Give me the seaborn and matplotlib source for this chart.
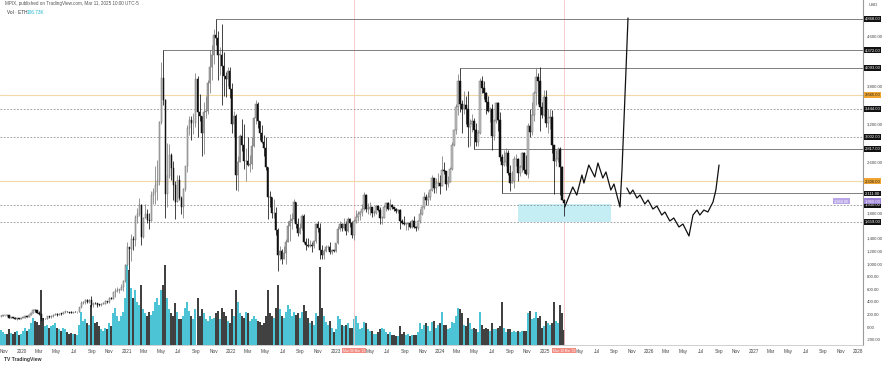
import numpy as np
import pandas as pd
import matplotlib
matplotlib.use("Agg")
import matplotlib.pyplot as plt
import matplotlib.dates as mdates
import matplotlib.transforms as mtrans
import seaborn as sns

# ---------------- data (weekly ETHUSD) ----------------
week_start = "2019-10-21"
first_open = 173

close_2019 = [182, 183, 185, 184, 150, 151, 148, 132, 133, 128, 144]
high_2019 = [197, 192, 194, 190, 185, 157, 153, 151, 136, 135, 146]
low_2019 = [160, 176, 181, 178, 140, 138, 143, 130, 117, 125, 126]

close_2020 = [146, 167, 162, 189, 223, 265, 262, 219, 200, 124, 123, 131, 169,
              158, 171, 197, 211, 190, 208, 206, 240, 245, 232, 227, 225, 242,
              232, 238, 310, 386, 390, 434, 388, 428, 354, 380, 372, 355, 353,
              366, 369, 410, 395, 465, 448, 550, 575, 590, 590, 640, 730, 975]
high_2020 = [148, 175, 170, 190, 225, 287, 288, 275, 253, 201, 145, 144, 175,
             175, 190, 200, 227, 215, 215, 215, 245, 252, 248, 238, 247, 245,
             250, 241, 320, 415, 405, 445, 440, 440, 488, 385, 395, 360, 370,
             375, 392, 420, 413, 470, 475, 555, 620, 630, 595, 680, 740, 1000]
low_2020 = [137, 143, 154, 160, 185, 220, 240, 215, 196, 90, 110, 125, 126,
            150, 145, 165, 193, 178, 185, 190, 198, 225, 230, 224, 220, 222,
            230, 229, 234, 305, 370, 370, 380, 372, 310, 320, 358, 315, 334,
            336, 365, 370, 375, 372, 440, 440, 480, 560, 535, 588, 570, 716]

close_2021 = [1260, 1230, 1390, 1370, 1740, 1780, 1935, 1420, 1720, 1790, 1690, 1680, 2080,
              2140, 2240, 2300, 3240, 3930, 3580, 2100, 2390, 2710, 2510, 2240, 1980, 2330,
              2040, 1900, 2180, 2540, 3150, 3270, 3220, 3230, 3920, 3400, 3330, 3060, 3400,
              3420, 3850, 4100, 4290, 4610, 4570, 4300, 4300, 4120, 3960, 3920, 4050, 3760]
high_2021 = [1350, 1270, 1475, 1440, 1770, 1875, 2040, 1950, 1740, 1940, 1870, 1800, 2150,
             2200, 2550, 2640, 3250, 4190, 4372, 3600, 2900, 2890, 2750, 2620, 2300, 2400,
             2400, 2070, 2200, 2550, 3190, 3330, 3330, 3380, 4020, 3970, 3680, 3180, 3550,
             3650, 3900, 4380, 4460, 4700, 4868, 4680, 4430, 4780, 4350, 4030, 4100, 4100]
low_2021 = [975, 900, 1040, 1220, 1280, 1650, 1760, 1300, 1410, 1720, 1640, 1550, 1670,
            1940, 1950, 2000, 2250, 3200, 3500, 1730, 1900, 2350, 2330, 2000, 1700, 1970,
            2000, 1780, 1720, 2150, 2450, 3040, 2950, 3050, 3160, 3000, 3250, 2700, 2740,
            3300, 3370, 3700, 3900, 4150, 4450, 3900, 3980, 3500, 3650, 3640, 3800, 3620]

close_2022 = [3200, 3330, 2400, 2600, 3020, 2870, 2620, 2620, 2560, 2580, 2860, 3300, 3520,
              3260, 3060, 2920, 2830, 2520, 2060, 2050, 1800, 1800, 1530, 1130, 1200, 1070,
              1170, 1350, 1600, 1680, 1700, 1980, 1620, 1490, 1570, 1760, 1340, 1290, 1280,
              1290, 1280, 1360, 1620, 1570, 1220, 1140, 1200, 1260, 1270, 1190, 1220, 1200]
high_2022 = [3850, 3420, 3360, 2700, 3050, 3280, 3200, 2830, 3000, 2720, 3000, 3320, 3580,
             3550, 3200, 3190, 3040, 3000, 2530, 2150, 2050, 2015, 1900, 1560, 1280, 1240,
             1280, 1390, 1670, 1780, 1800, 2030, 1960, 1720, 1640, 1790, 1780, 1400, 1400,
             1380, 1340, 1370, 1640, 1680, 1650, 1290, 1230, 1300, 1300, 1350, 1230, 1230]
low_2022 = [3060, 3000, 2160, 2150, 2600, 2780, 2500, 2300, 2540, 2450, 2500, 2850, 3200,
            3150, 2950, 2900, 2700, 2480, 1700, 1900, 1720, 1730, 1450, 880, 1060, 1000,
            1080, 1000, 1350, 1360, 1550, 1680, 1560, 1430, 1470, 1530, 1320, 1220, 1270,
            1270, 1190, 1250, 1330, 1500, 1080, 1080, 1070, 1190, 1220, 1160, 1160, 1190]

close_2023 = [1320, 1550, 1630, 1570, 1630, 1510, 1700, 1640, 1450, 1680, 1740, 1780, 1820,
              1860, 2080, 1870, 1870, 1900, 1800, 1800, 1910, 1850, 1720, 1730, 1900, 1960,
              1870, 1930, 1890, 1870, 1830, 1850, 1670, 1640, 1630, 1630, 1640, 1580, 1670,
              1580, 1560, 1670, 1780, 1890, 2050, 2010, 2060, 2170, 2350, 2200, 2270, 2280]
high_2023 = [1330, 1590, 1680, 1650, 1720, 1680, 1740, 1720, 1670, 1700, 1850, 1840, 1830,
             1940, 2140, 2100, 1960, 1980, 1880, 1850, 1930, 1930, 1890, 1760, 1930, 1960,
             1970, 2030, 1940, 1900, 1880, 1870, 1860, 1700, 1750, 1650, 1650, 1670, 1700,
             1750, 1590, 1680, 1860, 1910, 2130, 2100, 2130, 2180, 2400, 2330, 2350, 2440]
low_2023 = [1190, 1310, 1510, 1520, 1550, 1460, 1500, 1580, 1400, 1370, 1640, 1680, 1690,
            1760, 1850, 1810, 1790, 1770, 1740, 1760, 1780, 1830, 1630, 1630, 1720, 1830,
            1850, 1850, 1860, 1840, 1800, 1800, 1550, 1620, 1610, 1540, 1530, 1560, 1570,
            1570, 1520, 1530, 1640, 1770, 1870, 1930, 1930, 2000, 2150, 2120, 2120, 2220]

close_2024 = [2230, 2480, 2460, 2260, 2290, 2500, 2880, 3110, 3480, 3890, 3520, 3450, 3500,
              3450, 3160, 3200, 3260, 3120, 2920, 3070, 3890, 3780, 3700, 3560, 3420, 3440,
              3020, 3250, 3540, 3270, 2690, 2560, 2610, 2750, 2430, 2280, 2300, 2650, 2650,
              2440, 2520, 2750, 2480, 2420, 3180, 3080, 3350, 3700, 3950, 3890, 3480, 3350, 3630]
high_2024 = [2400, 2700, 2600, 2470, 2390, 2530, 2930, 3120, 3520, 3990, 4093, 3580, 3730,
             3650, 3730, 3280, 3360, 3300, 3220, 3110, 3940, 3960, 3880, 3710, 3650, 3470,
             3520, 3280, 3560, 3560, 3400, 2740, 2800, 2830, 2790, 2560, 2460, 2700, 2730,
             2670, 2560, 2770, 2770, 2720, 3220, 3450, 3550, 3730, 4090, 4010, 4110, 3550, 3740]
low_2024 = [2100, 2270, 2420, 2170, 2210, 2290, 2480, 2860, 3050, 3350, 3400, 3060, 3360,
            3210, 2850, 2860, 3080, 2817, 2860, 2860, 3050, 3700, 3600, 3360, 3400, 3240,
            2800, 2950, 3220, 3100, 2630, 2111, 2550, 2550, 2400, 2150, 2280, 2200, 2540,
            2310, 2380, 2450, 2440, 2400, 2350, 3000, 3030, 3250, 3500, 3520, 3100, 3300, 3330]

close_2025 = [3220, 3300, 3320, 2870, 2630, 2660, 2820, 2520, 2010, 1960]
high_2025 = [3740, 3450, 3450, 3430, 2870, 2800, 2850, 2850, 2550, 2020]
low_2025 = [3160, 3060, 3130, 2750, 2100, 2550, 2600, 2080, 2000, 1760]

# weekly volume, thousands of ETH
vol_2019 = [105, 90, 80, 75, 110, 85, 80, 90, 100, 70, 80]
vol_2020 = [95, 120, 100, 110, 150, 190, 170, 160, 140, 380, 190, 130, 140,
            120, 130, 140, 150, 120, 110, 100, 120, 110, 90, 80, 85, 80,
            75, 70, 140, 230, 170, 180, 150, 140, 280, 200, 150, 160, 130,
            110, 100, 120, 110, 150, 130, 220, 260, 200, 170, 200, 230, 330]
vol_2021 = [560, 520, 400, 330, 380, 300, 280, 420, 250, 220, 200, 230, 210,
            240, 300, 330, 280, 380, 420, 560, 330, 250, 220, 200, 290, 230,
            180, 180, 200, 260, 300, 240, 200, 180, 250, 330, 200, 250, 220,
            180, 170, 200, 180, 190, 220, 240, 180, 260, 230, 200, 170, 150]
vol_2022 = [250, 200, 380, 300, 220, 200, 190, 230, 220, 170, 180, 200, 180,
            170, 160, 140, 150, 200, 380, 220, 200, 190, 260, 420, 250, 200,
            190, 230, 280, 250, 200, 230, 210, 220, 190, 230, 280, 240, 190,
            150, 170, 140, 220, 200, 540, 260, 200, 160, 140, 170, 120, 90]
vol_2023 = [110, 200, 180, 140, 130, 140, 150, 120, 120, 180, 200, 150, 110,
            120, 160, 150, 110, 100, 100, 80, 80, 90, 110, 120, 110, 90,
            80, 90, 70, 70, 60, 60, 130, 80, 90, 70, 80, 60, 70,
            70, 70, 90, 150, 110, 140, 150, 130, 100, 160, 170, 120, 140]
vol_2024 = [150, 230, 140, 140, 110, 120, 160, 150, 200, 260, 250, 220, 140,
            130, 190, 150, 110, 120, 110, 90, 230, 140, 110, 120, 110, 100,
            150, 110, 110, 120, 130, 300, 120, 90, 110, 110, 90, 100, 90,
            100, 90, 100, 100, 100, 220, 240, 180, 190, 230, 190, 200, 120, 130]
vol_2025 = [170, 150, 140, 150, 300, 170, 150, 280, 220, 106.73]

# drawn levels
ray_start = ["2021-05-10", "2021-11-08", "2024-03-11", "2024-04-29", "2024-08-05"]
ray_price = [4372, 4868, 4093, 2817, 2111]
dotted_levels = [3444, 3002, 1930, 1659]
orange_levels = [3665, 2306]
zone_dates = ["2024-09-29", "2025-08-22"]
zone_prices = [1659, 1943]
marker_dates = ["2023-03-06", "2025-03-10"]
marker_labels = ["Mon 06 Mar '23", "Mon 10 Mar '25"]
last_price = 1960

# hand-drawn projections
proj1_dates = ["2025-03-12", "2025-04-09", "2025-04-23", "2025-05-11", "2025-05-18",
               "2025-06-04", "2025-06-25", "2025-07-06", "2025-07-23", "2025-08-03",
               "2025-08-20", "2025-08-31", "2025-09-21", "2025-09-28", "2025-10-05",
               "2025-10-12", "2025-10-19"]
proj1_price = [1896, 2212, 2085, 2401, 2275, 2559, 2370, 2591, 2354, 2449,
               2164, 2259, 1896, 2480, 3270, 4060, 4882]
proj2_dates = ["2025-10-15", "2025-10-26", "2025-11-05", "2025-11-19", "2025-11-30",
               "2025-12-17", "2025-12-28", "2026-01-14", "2026-01-28", "2026-02-14",
               "2026-02-25", "2026-03-14", "2026-03-28", "2026-04-15", "2026-04-29",
               "2026-05-20", "2026-06-03", "2026-06-17", "2026-06-27", "2026-07-11",
               "2026-07-25", "2026-08-12", "2026-08-22", "2026-09-02"]
proj2_price = [2196, 2101, 2164, 2038, 2085, 1943, 2006, 1864, 1912, 1769,
               1817, 1675, 1722, 1580, 1627, 1438, 1769, 1848, 1769, 1848,
               1817, 1975, 2164, 2559]

# ---------------- assemble ----------------
close = close_2019 + close_2020 + close_2021 + close_2022 + close_2023 + close_2024 + close_2025
high = high_2019 + high_2020 + high_2021 + high_2022 + high_2023 + high_2024 + high_2025
low = low_2019 + low_2020 + low_2021 + low_2022 + low_2023 + low_2024 + low_2025
vol = vol_2019 + vol_2020 + vol_2021 + vol_2022 + vol_2023 + vol_2024 + vol_2025
dates = pd.date_range(week_start, periods=len(close), freq="7D")
opens = [first_open] + close[:-1]
df = pd.DataFrame({"date": dates, "open": opens, "close": close, "high": high,
                   "low": low, "vol": vol})
df["high"] = df[["high", "open", "close"]].max(axis=1)
df["low"] = df[["low", "open", "close"]].min(axis=1)
df["up"] = df["close"] >= df["open"]

sns.set_style("white")
plt.rcParams["font.family"] = ["Liberation Sans", "DejaVu Sans"]

fig = plt.figure(figsize=(8.82, 3.65), dpi=100)
ax = fig.add_axes([0.0, 20 / 365, 863 / 882, 345 / 365])
axv = ax.twinx()
ax.set_zorder(axv.get_zorder() + 1)
ax.patch.set_visible(False)

x0 = pd.Timestamp("2019-10-17")
x1 = pd.Timestamp("2028-01-18")
ax.set_xlim(x0, x1)
ax.set_ylim(-284, 5166)
axv.set_ylim(0, 2400)

UPC = "#1fb6cb"
DNC = "#111111"

# volume
for s in axv.spines.values():
    s.set_visible(False)
axv.vlines(df["date"], 0, df["vol"], colors=np.where(df["up"], UPC, DNC).tolist(),
           lw=1.15, zorder=1)
axv.set_yticks([])

# levels
tr_lbl = mtrans.blended_transform_factory(ax.transAxes, ax.transData)
for d in marker_dates:
    ax.axvline(pd.Timestamp(d), color="#f6c3c3", lw=0.6, zorder=0)
for p in dotted_levels:
    ax.axhline(p, color="#8f8f8f", lw=0.6, ls=(0, (2, 2)), zorder=1)
for p in orange_levels:
    ax.axhline(p, color="#f3d9a4", lw=0.8, zorder=1)
for d, p in zip(ray_start, ray_price):
    ax.plot([pd.Timestamp(d), x1], [p, p], color="#7f7f7f", lw=0.7, zorder=1)
ax.fill_between([pd.Timestamp(zone_dates[0]), pd.Timestamp(zone_dates[1])],
                zone_prices[0], zone_prices[1], color="#c4eef4", lw=0, zorder=0)

# candles
ax.vlines(df["date"], df["low"], df["high"],
          colors=np.where(df["up"], "#7a7a7a", "#111111").tolist(), lw=0.55, zorder=3)
body_lo = df[["open", "close"]].min(axis=1)
body_h = (df["close"] - df["open"]).abs().clip(lower=8)
ax.bar(df["date"], body_h, bottom=body_lo, width=5.0,
       color=np.where(df["up"], "#c2c2c2", "#111111").tolist(),
       edgecolor=np.where(df["up"], "#6e6e6e", "#111111").tolist(), linewidth=0.35, zorder=4)

# projections
p1 = pd.DataFrame({"date": pd.to_datetime(proj1_dates), "price": proj1_price})
p2 = pd.DataFrame({"date": pd.to_datetime(proj2_dates), "price": proj2_price})
sns.lineplot(data=p1, x="date", y="price", ax=ax, color="#111111", lw=0.9, sort=False, zorder=5)
sns.lineplot(data=p2, x="date", y="price", ax=ax, color="#111111", lw=0.9, sort=False, zorder=5)
ax.set_xlabel("")
ax.set_ylabel("")

# axes styling
for s in ["top", "left"]:
    ax.spines[s].set_visible(False)
ax.spines["right"].set_color("#9a9a9a")
ax.spines["right"].set_linewidth(0.8)
ax.spines["bottom"].set_color("#c8c8c8")
ax.spines["bottom"].set_linewidth(0.6)

tag_prices = ray_price + dotted_levels + orange_levels + [last_price + 30]
ax.yaxis.tick_right()
yt = [v for v in range(-200, 5000, 200) if min(abs(v - t) for t in tag_prices) > 110]
ax.set_yticks(yt)
ax.set_yticklabels([f"{v:,.2f}" for v in yt])
ax.tick_params(axis="y", length=0, labelsize=3.1, labelcolor="#444444", pad=2.5)

ax.xaxis.set_major_locator(mdates.MonthLocator(bymonth=[1, 3, 5, 7, 9, 11]))
hidden_months = [(2023, 3), (2025, 3)]
def fmt(x, pos):
    d = mdates.num2date(x)
    if (d.year, d.month) in hidden_months:
        return ""
    return str(d.year) if d.month == 1 else d.strftime("%b")
ax.xaxis.set_major_formatter(plt.FuncFormatter(fmt))
ax.tick_params(axis="x", length=0, labelsize=3.4, labelcolor="#444444", pad=3)
ax.grid(False)

# right-axis level labels
def tag(p, txt, fc, tc="white"):
    ax.text(1.002, p, txt, transform=tr_lbl, fontsize=3.0, color=tc, va="center",
            ha="left", clip_on=False, zorder=10,
            bbox=dict(boxstyle="square,pad=0.2", fc=fc, ec="none"))
for p in ray_price:
    tag(p, f"{p:,.2f}", "#111111")
for p in dotted_levels:
    tag(p, f"{p:,.2f}", "#111111")
for p in orange_levels:
    tag(p, f"{p:,.2f}", "#f0a531", "#222222")
tag(last_price + 30, f"{last_price:,.2f}", "#9d84d8")
ax.text(0.984, last_price + 30, f"{last_price:,.2f}", transform=tr_lbl, fontsize=2.8,
        color="white", ha="right", va="center", zorder=10,
        bbox=dict(boxstyle="square,pad=0.2", fc="#b9a6e6", ec="none"))
ax.text(1.006, 1.0 - 5 / 345, "USD", transform=ax.transAxes, fontsize=3.2,
        color="#444444", ha="left", va="center", clip_on=False)

# date markers on x axis
trx = mtrans.blended_transform_factory(ax.transData, ax.transAxes)
for d, t in zip(marker_dates, marker_labels):
    ax.text(pd.Timestamp(d), -0.016, t, transform=trx,
            fontsize=2.3, color="white", ha="center", va="center", clip_on=False, zorder=10,
            bbox=dict(boxstyle="square,pad=0.25", fc="#f28b82", ec="none"))

# header + footer
fig.text(5 / 882, 1 - 4 / 365, "MPIX, published on TradingView.com, Mar 11, 2025 10:00 UTC-5",
         fontsize=3.3, color="#555555", va="center")
fig.text(7 / 882, 1 - 12 / 365, "Vol · ETH", fontsize=3.4, color="#333333", va="center")
fig.text(27 / 882, 1 - 12 / 365, "106.73K", fontsize=3.4, color=UPC, va="center")
fig.text(4 / 882, 1 - 359 / 365, "TV TradingView", fontsize=3.6, color="#333333",
         va="center", weight="bold")

fig.savefig("out.png", dpi=100, facecolor="white")
